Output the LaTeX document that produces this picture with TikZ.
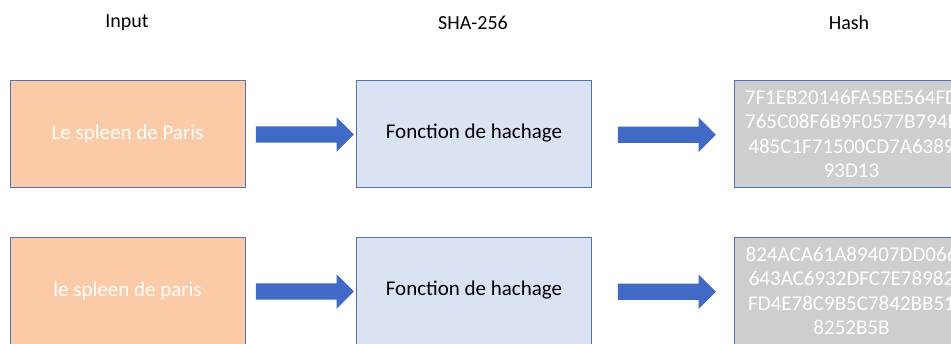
\documentclass[tikz,border=0pt]{standalone}
\usepackage{fontspec}
\setmainfont{Carlito}
\usetikzlibrary{shapes.arrows,calc}
\definecolor{boxline}{RGB}{84,114,186}
\definecolor{inputfill}{RGB}{251,202,166}
\definecolor{fnfill}{RGB}{218,227,243}
\definecolor{hashfill}{RGB}{207,206,206}
\definecolor{arrowblue}{RGB}{65,106,198}
\tikzstyle{title} = [font=\fontsize{20}{24}\selectfont]
\tikzstyle{mybox} = [draw=boxline, thin, rectangle, minimum width=235pt,
    minimum height=107pt, inner sep=0pt, font=\fontsize{21}{24.5}\selectfont]
\tikzstyle{inbox} = [mybox, fill=inputfill, text=white]
\tikzstyle{fnbox} = [mybox, fill=fnfill, text=black]
\tikzstyle{hashbox} = [mybox, fill=hashfill, text=white, align=center]
\tikzstyle{bigarrow} = [single arrow, fill=arrowblue, draw=none, inner xsep=0pt,
    inner ysep=8pt, minimum width=34pt, minimum height=98pt,
    single arrow head extend=9pt, single arrow tip angle=90]

\begin{document}
\begin{tikzpicture}[x=1pt,y=-1pt]
                \clip (0,0) rectangle (951,343);
                \fill[white] (0,0) rectangle (951,343);
                % column titles
                \node[title] (tin) at (127,23) {Input};
                \node[title] (tsha) at (473,23) {SHA-256};
                \node[title] (thash) at (849,23) {Hash};
                % first row
                \node[inbox] (in1) at (127.5,133.5) {Le spleen de Paris};
                \node[fnbox] (fn1) at (474,133.5) {Fonction de hachage};
                \node[hashbox] (hash1) at (851.5,134) {7F1EB20146FA5BE564FD\\765C08F6B9F0577B794E\\485C1F71500CD7A6389\\93D13};
                \node[bigarrow] (a1) at ($(in1.east)!0.5!(fn1.west)+(0,1)$) {};
                \node[bigarrow] (b1) at ($(fn1.east)!0.5!(hash1.west)+(0,1)$) {};
                % second row
                \node[inbox] (in2) at (127.5,290.5) {le spleen de paris};
                \node[fnbox] (fn2) at (474,290.5) {Fonction de hachage};
                \node[hashbox] (hash2) at (851.5,291) {824ACA61A89407DD066\\643AC6932DFC7E78982\\FD4E78C9B5C7842BB51\\8252B5B};
                \node[bigarrow] (a2) at ($(in2.east)!0.5!(fn2.west)+(0,1)$) {};
                \node[bigarrow] (b2) at ($(fn2.east)!0.5!(hash2.west)+(0,1)$) {};
            \end{tikzpicture}
\end{document}
